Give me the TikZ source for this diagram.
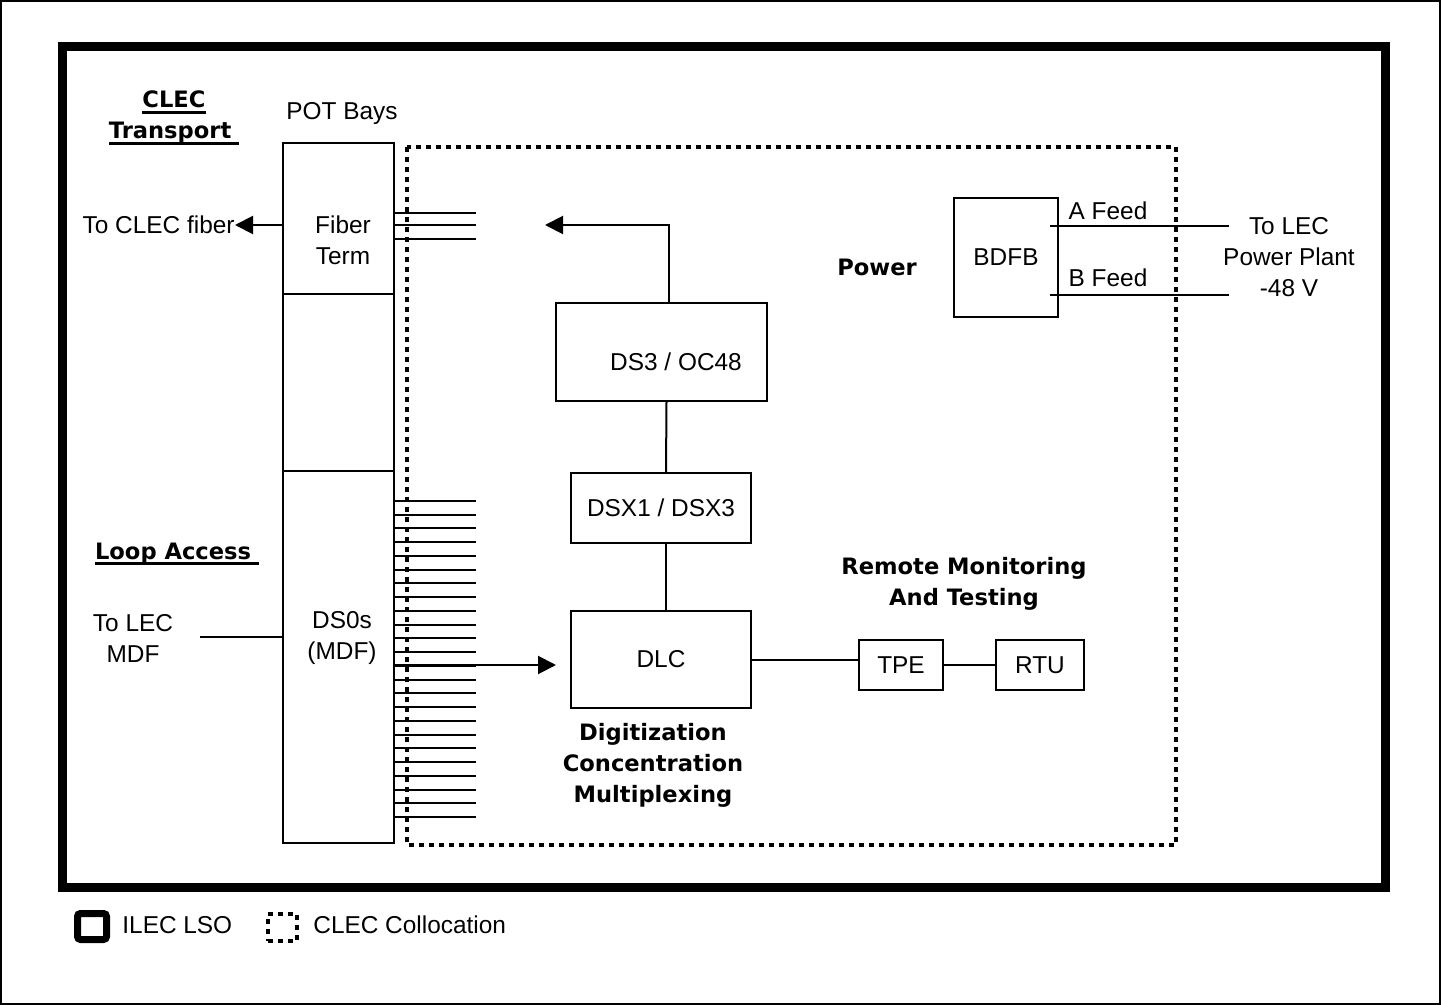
\documentclass[tikz,border=0pt]{standalone}
\usepackage{fontspec}
\setmainfont{Liberation Sans}
\newfontfamily\headfont{DejaVu Sans}
\usetikzlibrary{arrows.meta,calc}

% bold underline with a heavier rule
\newcommand{\ulbold}[1]{\sbox0{#1}\rlap{\rule[-3pt]{\wd0}{1.5pt}}\box0}

\tikzset{
  txt/.style={align=center, inner sep=0pt, font=\fontsize{12.2}{15.5}\selectfont},
  head/.style={align=center, inner sep=0pt, font=\headfont\bfseries\fontsize{11.3}{15.5}\selectfont},
  box/.style={draw, line width=1pt, inner sep=0pt, font=\fontsize{12.2}{15.5}\selectfont},
  link/.style={line width=1pt},
  arr/.style={line width=1pt, -{Triangle[length=9pt,width=9pt]}},
  ilec/.style={line width=4.5pt},
  clec/.style={line width=2pt, dash pattern=on 2.5pt off 2.5pt}
}

\begin{document}
\begin{tikzpicture}[x=0.5pt, y=-0.5pt]
\useasboundingbox (0,0) rectangle (1441,1005);
% page frame
\draw[line width=0.8pt] (1,1) rectangle (1440,1004);

% ILEC LSO and CLEC collocation
\draw[ilec] (62.5,46.5) rectangle (1385.5,887.5);
\draw[clec] (407,147) rectangle (1176,845);

% POT bays
\node[txt] (potbays) at (342,114) {POT Bays};
\node[box, minimum width=55.5pt, minimum height=350pt] (pot) at (338.5,493) {};
\draw[link] ([yshift=-76pt]pot.north west) -- ([yshift=-76pt]pot.north east);
\draw[link] ([yshift=-164.5pt]pot.north west) -- ([yshift=-164.5pt]pot.north east);
\node[txt] (fiberterm) at (343,240) {Fiber\\Term};
\node[txt] (ds0s) at (342,638) {DS0s\\(MDF)};

% terminations
\foreach \y in {213,225,239}
  \draw[link] (394,\y) -- (476,\y);
\foreach \i in {0,...,23}
  \draw[link] (394,{501+13.74*\i}) -- (476,{501+13.74*\i});

% transport side
\node[head] (transport) at (174,118) {\ulbold{CLEC}\\\ulbold{Transport\ }};
\node[txt, anchor=east] (clecfiber) at (235,225) {To CLEC fiber};
\draw[arr] (pot.west |- clecfiber.east) -- (clecfiber.east);

% loop side
\node[head] (loop) at (177,554) {\ulbold{Loop Access\ }};
\node[txt] (lecmdf) at (133,638) {To LEC\\MDF};
\coordinate (mdfout) at (200,637);
\draw[link] (mdfout) -- (mdfout -| pot.west);

% equipment
\node[box, minimum width=105.5pt, minimum height=49pt] (ds3) at (661.5,352) {};
\node[txt] (ds3lbl) at (676,362) {DS3 / OC48};
\node[box, minimum width=90pt, minimum height=35pt] (dsx) at (661,508) {DSX1 / DSX3};
\node[box, minimum width=90pt, minimum height=48.5pt] (dlc) at (661,659.5) {DLC};
\node[head] (digit) at (653,765) {Digitization\\Concentration\\Multiplexing};

\coordinate (ds3up) at (669,225);
\coordinate (fibin) at (545,225);
\draw[arr] (ds3up |- ds3.north) -- (ds3up) -- (fibin);
\draw[link] ([xshift=2.5pt]ds3.south) -- ([xshift=2.5pt]dsx.north);
\draw[link] ([xshift=2.5pt]dsx.south) -- ([xshift=2.5pt]dlc.north);
\coordinate (dlcin) at (556,665);
\draw[arr] (pot.east |- dlcin) -- (dlcin);

% monitoring
\node[head] (remote) at (964,584) {Remote Monitoring\\And Testing};
\node[box, minimum width=42pt, minimum height=25pt] (tpe) at (901,665) {TPE};
\node[box, minimum width=44pt, minimum height=25pt] (rtu) at (1040,665) {RTU};
\draw[link] (dlc.east) -- (dlc.east -| tpe.west);
\draw[link] (tpe) -- (rtu);

% power
\node[head] (power) at (877,267) {Power};
\node[box, minimum width=52pt, minimum height=59.5pt] (bdfb) at (1006,257.5) {BDFB};
\coordinate (afeed) at (1229,226);
\coordinate (bfeed) at (1229,295);
\draw[link] ($(afeed -| bdfb.east)+(-9,0)$) -- (afeed);
\draw[link] ($(bfeed -| bdfb.east)+(-9,0)$) -- (bfeed);
\node[txt] (afeedlbl) at (1108,211) {A Feed};
\node[txt] (bfeedlbl) at (1108,278) {B Feed};
\node[txt] (lecpower) at (1289,257) {To LEC\\Power Plant\\-48 V};

% legend
\node[draw, line width=3.5pt, rounded corners=1.5pt, minimum width=14.5pt, minimum height=13pt, inner sep=0pt] (ilecbox) at (92,926.5) {};
\node[txt, anchor=west] (ileclbl) at (122,925) {ILEC LSO};
\node[draw, clec, minimum width=14.5pt, minimum height=13.5pt, inner sep=0pt] (clecbox) at (282.5,927) {};
\node[txt, anchor=west] (cleclbl) at (313,925) {CLEC Collocation};
\end{tikzpicture}
\end{document}
